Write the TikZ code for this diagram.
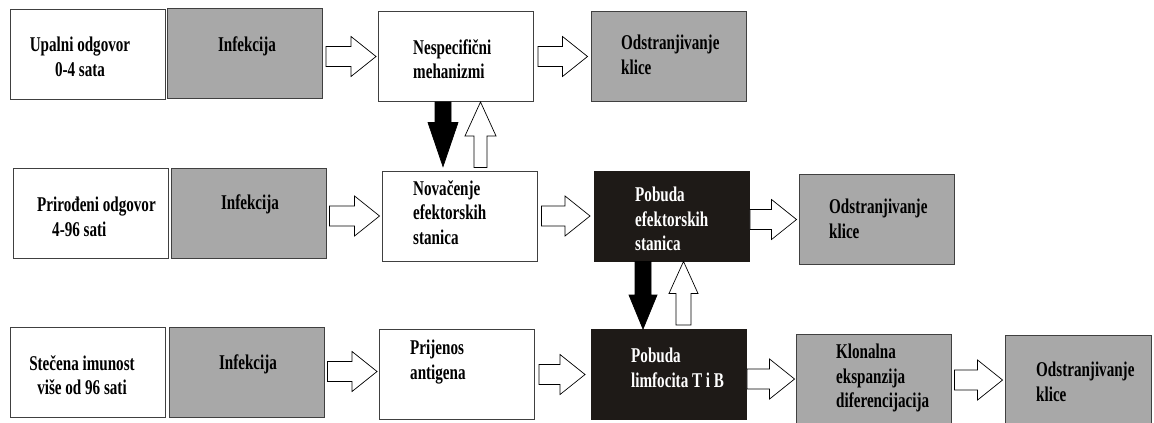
\documentclass[tikz,border=0pt]{standalone}
\usepackage{fontspec}
\setmainfont{Liberation Serif}[FakeStretch=0.72]
\usetikzlibrary{calc}

\definecolor{boxgray}{HTML}{A8A8A8}
\definecolor{boxline}{HTML}{404040}
\definecolor{boxblack}{HTML}{1E1A17}

\tikzset{
  box/.style      = {draw=boxline, line width=0.9pt, minimum width=155pt,
                     minimum height=90pt, inner sep=0pt},
  whitebox/.style = {box, fill=white},
  graybox/.style  = {box, fill=boxgray},
  blackbox/.style = {box, draw=boxblack, fill=boxblack},
  txt/.style      = {font=\bfseries\fontsize{21}{24.5}\selectfont, inner sep=0pt,
                     align=left, anchor=north west},
  ctxt/.style     = {txt, align=center, anchor=north},
  blockarrow/.style = {draw=black, line width=0.7pt, line join=miter}
}

% hollow arrow pointing right, tail x from #1, tip and height from #2
\newcommand{\blockright}[2]{%
  \draw[blockarrow, fill=white] let \p1=(#1), \p2=(#2) in
    (\x1,\y2+10pt) -- (\x2-25pt,\y2+10pt) -- (\x2-25pt,\y2+20pt) -- (\x2,\y2)
    -- (\x2-25pt,\y2-20pt) -- (\x2-25pt,\y2-10pt) -- (\x1,\y2-10pt) -- cycle;}
% vertical arrows: tail y from #2, tip from #3, half shaft #4, half head #5, head length #6
\newcommand{\blockdown}[6][black]{%
  \draw[blockarrow, fill=#1] let \p1=(#2), \p2=(#3) in
    (\x2-#4,\y1) -- (\x2-#4,\y2+#6) -- (\x2-#5,\y2+#6) -- (\x2,\y2)
    -- (\x2+#5,\y2+#6) -- (\x2+#4,\y2+#6) -- (\x2+#4,\y1) -- cycle;}
\newcommand{\blockup}[6][white]{%
  \draw[blockarrow, fill=#1] let \p1=(#2), \p2=(#3) in
    (\x2-#4,\y1) -- (\x2-#4,\y2-#6) -- (\x2-#5,\y2-#6) -- (\x2,\y2)
    -- (\x2+#5,\y2-#6) -- (\x2+#4,\y2-#6) -- (\x2+#4,\y1) -- cycle;}

\begin{document}
\begin{tikzpicture}[x=1pt,y=-1pt]
  \useasboundingbox (0,0) rectangle (1154,423);
  \clip (0,0) rectangle (1154,423);

  % upalni odgovor
  \node[whitebox] (upalni) at (87.5,54)    {};
  \node[graybox]  (inf1)   at (245,53)     {};
  \node[whitebox] (nesp)   at (456,56.5)   {};
  \node[graybox]  (odstr1) at (668.5,56.5) {};
  % prirodjeni odgovor
  \node[whitebox] (prirod) at (90.5,213)   {};
  \node[graybox]  (inf2)   at (248.5,213)  {};
  \node[whitebox] (novac)  at (459.5,216)  {};
  \node[blackbox] (pobef)  at (672,216)    {};
  \node[graybox]  (odstr2) at (876.5,219.5) {};
  % stecena imunost
  \node[whitebox] (stecena) at (87.5,372.5) {};
  \node[graybox]  (inf3)    at (246.5,372)  {};
  \node[whitebox] (prijen)  at (457,374.5)  {};
  \node[blackbox] (poblim)  at (669,374.5)  {};
  \node[graybox]  (klon)    at (873.5,379)  {};
  \node[graybox, minimum width=146pt] (odstr3) at (1078,380) {};

  \node[ctxt] (t-upalni) at (80,37)   {Upalni odgovor\\0-4 sata};
  \node[ctxt] (t-inf1)   at (247,37)  {Infekcija};
  \node[txt]  (t-nesp)   at (413,39)  {Nespecifični\\mehanizmi};
  \node[txt]  (t-odstr1) at (621,35)  {Odstranjivanje\\klice};

  \node[txt]  (t-prirod) at (37,197)  {Prirođeni odgovor\\\hspace*{15pt}4-96 sati};
  \node[ctxt] (t-inf2)   at (250,195) {Infekcija};
  \node[txt]  (t-novac)  at (413,180) {Novačenje\\efektorskih\\stanica};
  \node[txt, text=white] (t-pobef) at (635,187) {Pobuda\\efektorskih\\stanica};
  \node[txt]  (t-odstr2) at (829,199) {Odstranjivanje\\klice};

  \node[ctxt] (t-stecena) at (82,355)  {Stečena imunost\\više od 96 sati};
  \node[ctxt] (t-inf3)    at (248,355) {Infekcija};
  \node[txt]  (t-prijen)  at (410,340) {Prijenos\\antigena};
  \node[txt, text=white] (t-poblim) at (631,348) {Pobuda\\limfocita T i B};
  \node[txt]  (t-klon)    at (836,344) {Klonalna\\ekspanzija\\diferencijacija};
  \node[txt]  (t-odstr3)  at (1036,362) {Odstranjivanje\\klice};

  \blockright{$(inf1.east)+(3,0)$}{$(nesp.west)+(-2,0)$}
  \blockright{$(nesp.east)+(4,0)$}{$(odstr1.west)+(-3,0)$}
  \blockright{$(inf2.east)+(3,0)$}{$(novac.west)+(-2,0)$}
  \blockright{$(novac.east)+(4,0)$}{$(pobef.west)+(-4,0)$}
  \blockright{pobef.east}{$(odstr2.west)+(-2,0)$}
  \blockright{$(inf3.east)+(3,0)$}{$(prijen.west)+(-2,-3)$}
  \blockright{$(prijen.east)+(4,0)$}{$(poblim.west)+(-6,0)$}
  \blockright{poblim.east}{$(klon.west)+(-1,0)$}
  \blockright{$(klon.east)+(3,0)$}{$(odstr3.west)+(-2,0)$}

  \blockdown{$(nesp.south)+(-13,0)$}{$(novac.north)+(-16.5,-4)$}{8pt}{15pt}{44pt}
  \blockup{$(novac.north)+(21,-3)$}{$(nesp.south)+(24.5,0)$}{6.5pt}{15.5pt}{34pt}
  \blockdown{$(pobef.south)+(-29,0)$}{$(poblim.north)+(-26,0)$}{8pt}{14pt}{34pt}
  \blockup{$(poblim.north)+(14.5,-4)$}{$(pobef.south)+(11.5,0)$}{7.5pt}{14.5pt}{32pt}
\end{tikzpicture}
\end{document}
